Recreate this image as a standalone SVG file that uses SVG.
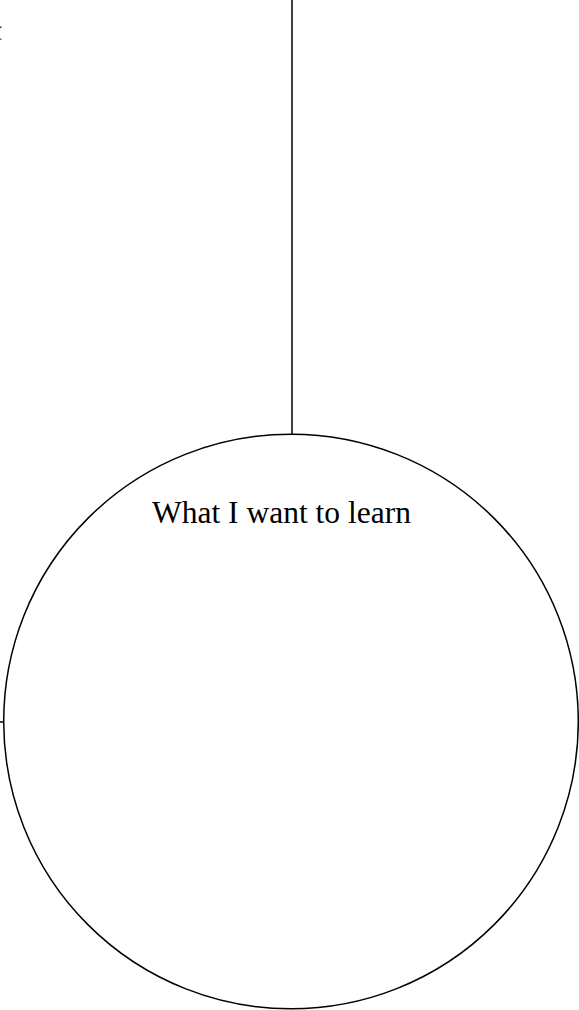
<svg xmlns="http://www.w3.org/2000/svg" width="579" height="1010" viewBox="0 0 579 1010">
<style>
.ln{stroke:#000;stroke-width:1.5;fill:none}
.lbl{font-family:"Liberation Serif","Times New Roman",serif;font-size:31.5px;fill:#000}
</style>
<rect width="579" height="1010" fill="#fff"/>
<g id="connectors">
<line class="ln" x1="292" y1="0" x2="292" y2="434"/>
<line class="ln" x1="0" y1="722" x2="4" y2="722"/>
</g>
<g id="marks">
<rect x="0" y="26.5" width="1.5" height="1.5" fill="#333"/>
<rect x="0" y="38.5" width="1.5" height="1.5" fill="#666"/>
</g>
<g id="node-learn">
<circle class="ln" cx="291" cy="721.5" r="287.3"/>
<text class="lbl" x="152" y="523">What I want to learn</text>
</g>
</svg>
